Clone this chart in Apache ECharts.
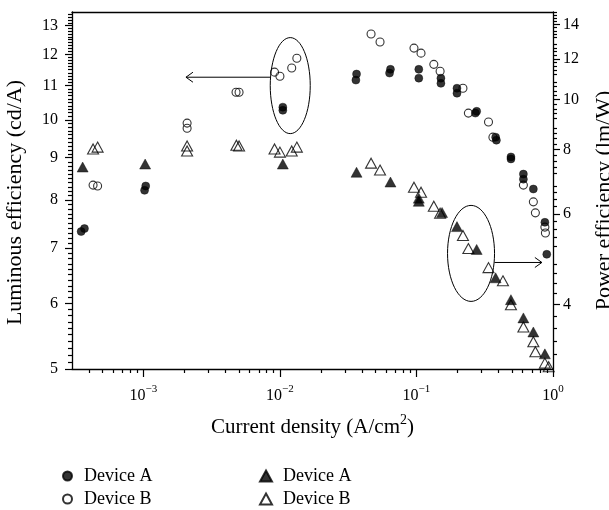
<!DOCTYPE html>
<html><head><meta charset="utf-8">
<script src="https://cdn.jsdelivr.net/npm/echarts@6/dist/echarts.min.js"></script>
<style>html,body{margin:0;padding:0;background:#fff}#c{width:609px;height:510px}</style>
</head><body><div id="c"></div>
<script>
// ---- data (current density A/cm^2, luminous efficiency cd/A, power efficiency lm/W)
const lumA_x = [3.5e-4,3.7e-4,1.02e-3,1.04e-3,1.05e-2,1.05e-2,3.64e-2,3.6e-2,6.45e-2,6.35e-2,0.104,0.104,0.151,0.151,0.198,0.198,0.276,0.27,0.38,0.385,0.492,0.492,0.607,0.607,0.718,0.872,0.90];
const lumA_y = [7.33,7.39,8.22,8.32,10.36,10.27,11.36,11.17,11.51,11.39,11.51,11.23,11.23,11.07,10.92,10.77,10.24,10.19,9.53,9.45,9.02,8.97,8.60,8.48,8.25,7.52,6.88];
const lumB_x = [4.28e-4,4.62e-4,2.09e-3,2.09e-3,4.77e-3,5.02e-3,9.13e-3,1.0e-2,1.22e-2,1.33e-2,4.65e-2,5.41e-2,9.59e-2,0.108,0.134,0.149,0.219,0.24,0.337,0.363,0.607,0.718,0.743,0.872,0.88];
const lumB_y = [8.34,8.32,9.91,9.77,10.80,10.80,11.42,11.29,11.55,11.87,12.70,12.42,12.21,12.04,11.67,11.45,10.92,10.19,9.94,9.53,8.34,7.96,7.72,7.42,7.30];
const powA_x = [3.59e-4,1.03e-3,1.05e-2,3.64e-2,6.45e-2,0.104,0.104,0.154,0.198,0.276,0.38,0.492,0.607,0.718,0.872];
const powA_y = [7.40,7.50,7.50,7.23,6.92,6.44,6.35,6.04,5.67,5.12,4.51,4.09,3.77,3.54,3.21];
const powB_x = [4.28e-4,4.62e-4,2.09e-3,2.09e-3,4.8e-3,5.02e-3,9.13e-3,1.0e-2,1.22e-2,1.33e-2,4.65e-2,5.41e-2,9.59e-2,0.108,0.134,0.149,0.219,0.24,0.337,0.43,0.492,0.607,0.718,0.743,0.872,0.93];
const powB_y = [8.02,8.09,8.13,7.95,8.16,8.13,8.02,7.91,7.95,8.09,7.53,7.30,6.76,6.61,6.21,6.02,5.45,5.14,4.72,4.45,4.00,3.62,3.39,3.24,3.08,3.03];

// ---- axis ticks
const xMajor = [1e-3,1e-2,1e-1,1];
const xMinor = [4e-4,5e-4,6e-4,7e-4,8e-4,9e-4,2e-3,3e-3,4e-3,5e-3,6e-3,7e-3,8e-3,9e-3,2e-2,3e-2,4e-2,5e-2,6e-2,7e-2,8e-2,9e-2,0.2,0.3,0.4,0.5,0.6,0.7,0.8,0.9];
const lumMajor = [5,6,7,8,9,10,11,12,13];
const powMajor = [4,6,8,10,12,14];
const xRange = [3e-4, 1];
const lumRange = [5, 13.5];
const powRange = [3, 14.8];

const names = {aL:'Device A', bL:'Device B', aP:'Device A', bP:'Device B'};
const L = Math.log10;
const lumMinor = [];
for (let i = 50; i <= 134; i++) { if (i % 10) lumMinor.push(i / 10); }
const powMinor = [];
for (let i = 15; i <= 74; i++) { if (i % 5) powMinor.push(i / 5); }

const FONT = 'Liberation Serif';
const black = '#000';
const pairs = (xs, ys) => xs.map((x, i) => [L(x), L(ys[i])]);
const sup = n => (n < 0 ? '\u2212' + (-n) : '' + n);

const chart = echarts.init(document.getElementById('c'), null, {renderer: 'canvas'});
const lineStyle = {color: black, width: 1.3};
const tickStyle = {color: black, width: 1.2};

const legendText = {fontFamily: FONT, fontSize: 18, color: black};
const mkLegend = (name, left, top, w, h, pad) => ({
  left, top, padding: 0, itemWidth: w, itemHeight: h, data: [name], selectedMode: false,
  formatter: n => names[n], textStyle: Object.assign({padding: [0, 0, 0, pad]}, legendText)
});
const gridBox = {left: 72, right: 56, top: 12, bottom: 141, containLabel: false, outerBoundsMode: 'none'};

const option = {
  animation: false,
  backgroundColor: '#fff',
  grid: [Object.assign({}, gridBox), Object.assign({}, gridBox)],
  xAxis: [
    {type: 'value', gridIndex: 0, position: 'bottom', min: L(xRange[0]), max: L(xRange[1]),
     axisLine: {show: true, onZero: false, lineStyle},
     axisTick: {show: true, inside: false, length: 8, customValues: xMajor.map(L), lineStyle: tickStyle},
     axisLabel: {show: true, margin: 15, customValues: xMajor.map(L), color: black,
       formatter: v => '{b|10}{s|' + sup(Math.round(v)) + '}',
       rich: {b: {fontFamily: FONT, fontSize: 16, lineHeight: 20, verticalAlign: 'bottom', color: black},
              s: {fontFamily: FONT, fontSize: 11, lineHeight: 12, verticalAlign: 'top', color: black}}},
     splitLine: {show: false},
     name: '{t|Current density (A/cm}{s|2}{t|)}', nameLocation: 'middle', nameGap: 44,
     nameTextStyle: {rich: {t: {fontFamily: FONT, fontSize: 21, lineHeight: 25, verticalAlign: 'bottom', color: black},
                            s: {fontFamily: FONT, fontSize: 14, lineHeight: 15, verticalAlign: 'top', color: black}}}},
    {type: 'value', gridIndex: 0, position: 'top', min: L(xRange[0]), max: L(xRange[1]),
     axisLine: {show: true, onZero: false, lineStyle}, axisTick: {show: false}, axisLabel: {show: false}, splitLine: {show: false}},
    {type: 'value', gridIndex: 1, position: 'bottom', min: L(xRange[0]), max: L(xRange[1]),
     axisLine: {show: false, onZero: false}, axisTick: {show: true, inside: false, length: 4, customValues: xMinor.map(L), lineStyle: tickStyle},
     axisLabel: {show: false}, splitLine: {show: false}}
  ],
  yAxis: [
    {type: 'value', gridIndex: 0, position: 'left', min: L(lumRange[0]), max: L(lumRange[1]),
     axisLine: {show: true, onZero: false, lineStyle},
     axisTick: {show: true, inside: false, length: 7, customValues: lumMajor.map(L), lineStyle: tickStyle},
     axisLabel: {show: true, margin: 14, customValues: lumMajor.map(L), formatter: v => '' + Math.round(Math.pow(10, v)),
       fontFamily: FONT, fontSize: 16, color: black},
     splitLine: {show: false},
     name: 'Luminous efficiency (cd/A)', nameLocation: 'middle', nameGap: 46,
     nameTextStyle: {fontFamily: FONT, fontSize: 22, color: black, padding: [0, 24, 0, 0]}},
    {type: 'value', gridIndex: 0, position: 'right', min: L(powRange[0]), max: L(powRange[1]),
     axisLine: {show: true, onZero: false, lineStyle},
     axisTick: {show: true, inside: false, length: 7, customValues: powMajor.map(L), lineStyle: tickStyle},
     axisLabel: {show: true, margin: 10, customValues: powMajor.map(L), formatter: v => '' + Math.round(Math.pow(10, v)),
       fontFamily: FONT, fontSize: 16, color: black},
     splitLine: {show: false},
     name: 'Power efficiency (lm/W)', nameLocation: 'middle', nameGap: 40,
     nameTextStyle: {fontFamily: FONT, fontSize: 22, color: black, padding: [0, 20, 0, 0]}},
    {type: 'value', gridIndex: 1, position: 'left', min: L(lumRange[0]), max: L(lumRange[1]),
     axisLine: {show: false, onZero: false}, axisTick: {show: true, inside: false, length: 4, customValues: lumMinor.map(L), lineStyle: tickStyle},
     axisLabel: {show: false}, splitLine: {show: false}},
    {type: 'value', gridIndex: 1, position: 'right', min: L(powRange[0]), max: L(powRange[1]),
     axisLine: {show: false, onZero: false}, axisTick: {show: true, inside: false, length: 4, customValues: powMinor.map(L), lineStyle: tickStyle},
     axisLabel: {show: false}, splitLine: {show: false}}
  ],
  legend: [
    mkLegend('aL', 62, 467, 9, 9, 7),
    mkLegend('bL', 62, 490, 9, 9, 7),
    mkLegend('aP', 259, 467, 12, 11, 6),
    mkLegend('bP', 259, 490, 12, 11, 6)
  ],
  series: [
    {name: 'aL', type: 'scatter', xAxisIndex: 0, yAxisIndex: 0, symbol: 'circle', symbolSize: 8,
     itemStyle: {color: black, borderColor: black, borderWidth: 0.5}, data: pairs(lumA_x, lumA_y)},
    {name: 'bL', type: 'scatter', xAxisIndex: 0, yAxisIndex: 0, symbol: 'circle', symbolSize: 8,
     itemStyle: {color: 'rgba(255,255,255,0)', borderColor: black, borderWidth: 1.1}, data: pairs(lumB_x, lumB_y)},
    {name: 'aP', type: 'scatter', xAxisIndex: 0, yAxisIndex: 1, symbol: 'triangle', symbolSize: [11, 10],
     itemStyle: {color: black, borderColor: black, borderWidth: 0.5}, data: pairs(powA_x, powA_y)},
    {name: 'bP', type: 'scatter', xAxisIndex: 0, yAxisIndex: 1, symbol: 'triangle', symbolSize: [11, 10],
     itemStyle: {color: 'rgba(255,255,255,0)', borderColor: black, borderWidth: 1.1}, data: pairs(powB_x, powB_y)}
  ]
};
chart.setOption(option);

// ---- annotations (ellipses + arrows) anchored in data coordinates
const pxL = (x, y) => chart.convertToPixel({xAxisIndex: 0, yAxisIndex: 0}, [L(x), L(y)]);
const pxP = (x, y) => chart.convertToPixel({xAxisIndex: 0, yAxisIndex: 1}, [L(x), L(y)]);
const e1 = pxL(0.0119, 11.0);
const a1s = pxL(0.0105, 11.26), a1e = pxL(2.05e-3, 11.26);
const e2 = pxP(0.251, 5.03);
const a2e = pxP(0.829, 4.83);
const st = {fill: 'none', stroke: black, lineWidth: 1};
const graphic = [
  {type: 'ellipse', shape: {cx: e1[0], cy: e1[1], rx: 20, ry: 48}, style: st},
  {type: 'line', shape: {x1: e1[0] - 20, y1: a1s[1], x2: a1e[0], y2: a1s[1]}, style: st},
  {type: 'polyline', shape: {points: [[a1e[0] + 7, a1s[1] - 5], [a1e[0], a1s[1]], [a1e[0] + 7, a1s[1] + 5]]}, style: st},
  {type: 'ellipse', shape: {cx: e2[0], cy: e2[1], rx: 23.5, ry: 48}, style: st},
  {type: 'line', shape: {x1: e2[0] + 23.5, y1: a2e[1], x2: a2e[0], y2: a2e[1]}, style: st},
  {type: 'polyline', shape: {points: [[a2e[0] - 7, a2e[1] - 5], [a2e[0], a2e[1]], [a2e[0] - 7, a2e[1] + 5]]}, style: st}
];
chart.setOption({graphic});
</script>
</body></html>
